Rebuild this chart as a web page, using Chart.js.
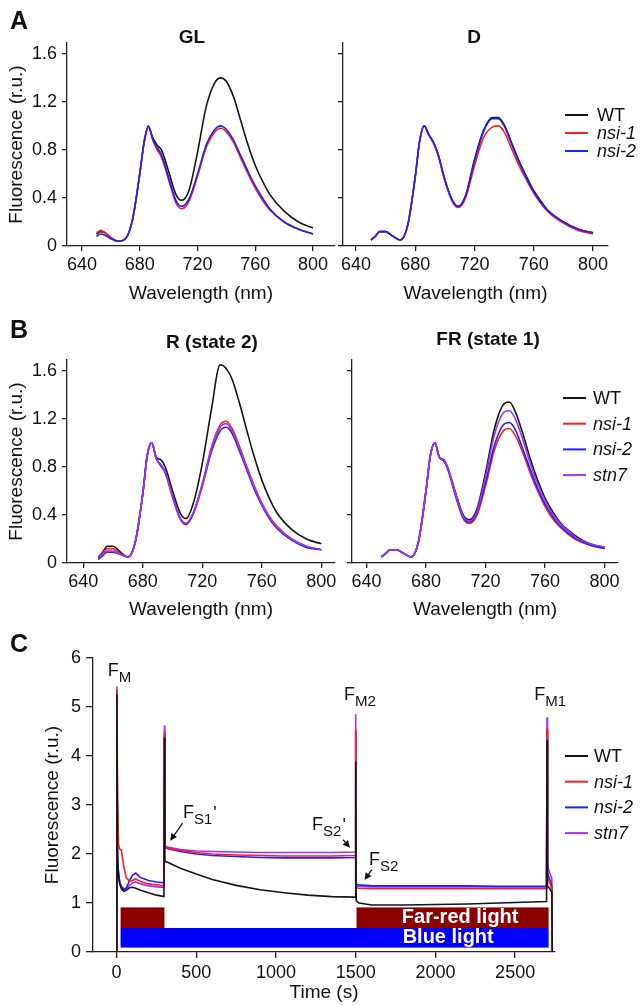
<!DOCTYPE html>
<html>
<head>
<meta charset="utf-8">
<script src="https://cdn.jsdelivr.net/npm/chart.js@4.4.1/dist/chart.umd.min.js"></script>
<style>
  html, body { margin: 0; padding: 0; background: #fff; }
  #fig { position: relative; width: 640px; height: 1005px; overflow: hidden; }
  #fig canvas { position: absolute; }
</style>
</head>
<body>
<div id="fig">
  <canvas id="glChart" width="340" height="310" style="left:0;top:0"></canvas>
  <canvas id="dChart" width="310" height="310" style="left:330px;top:0"></canvas>
  <canvas id="rChart" width="340" height="315" style="left:0;top:310px"></canvas>
  <canvas id="frChart" width="300" height="315" style="left:340px;top:310px"></canvas>
  <canvas id="timeChart" width="640" height="380" style="left:0;top:625px"></canvas>
</div>
<script>
// ---- data ----
const wl = [650, 653, 656, 660, 665, 670, 675, 680, 683, 686, 689, 692, 695, 700, 705, 709, 714, 720, 726, 732, 736, 740, 745, 750, 755, 760, 765, 770, 780, 790, 800];
const wlTicks = [640, 680, 720, 760, 800];
const fluoTicks = [0, 0.4, 0.8, 1.2, 1.6];

// A: growth light (GL) and dark (D)
const glWT   = [0.10,0.12,0.11,0.07,0.04,0.06,0.22,0.60,0.86,0.99,0.90,0.84,0.80,0.62,0.43,0.38,0.46,0.78,1.16,1.36,1.40,1.37,1.24,1.04,0.84,0.67,0.54,0.43,0.29,0.20,0.15];
const glNsi1 = [0.11,0.13,0.11,0.07,0.04,0.06,0.22,0.60,0.86,0.99,0.88,0.80,0.74,0.55,0.36,0.31,0.37,0.58,0.82,0.95,0.98,0.95,0.86,0.73,0.60,0.48,0.38,0.30,0.20,0.14,0.10];
const glNsi2 = [0.08,0.10,0.09,0.06,0.04,0.06,0.22,0.60,0.87,1.00,0.89,0.82,0.76,0.57,0.38,0.33,0.39,0.60,0.84,0.97,1.00,0.97,0.88,0.75,0.62,0.50,0.40,0.31,0.20,0.14,0.10];
const dWT    = [0.05,0.08,0.12,0.12,0.08,0.05,0.18,0.58,0.88,1.00,0.93,0.87,0.78,0.55,0.38,0.33,0.42,0.72,0.96,1.07,1.07,1.01,0.86,0.71,0.58,0.46,0.37,0.29,0.20,0.14,0.11];
const dNsi1  = [0.05,0.08,0.12,0.12,0.08,0.05,0.18,0.58,0.88,1.00,0.93,0.86,0.77,0.54,0.37,0.32,0.40,0.67,0.90,0.99,1.00,0.95,0.81,0.67,0.55,0.44,0.35,0.28,0.19,0.13,0.10];
const dNsi2  = [0.05,0.08,0.12,0.12,0.08,0.05,0.18,0.58,0.88,1.00,0.93,0.87,0.78,0.55,0.38,0.33,0.42,0.71,0.95,1.06,1.06,1.00,0.85,0.70,0.57,0.45,0.36,0.29,0.20,0.14,0.11];

// B: red light (state 2) and far-red light (state 1)
const rWT    = [0.05,0.09,0.14,0.14,0.09,0.05,0.18,0.58,0.90,1.00,0.88,0.86,0.80,0.60,0.42,0.37,0.50,0.83,1.27,1.65,1.62,1.53,1.33,1.10,0.88,0.69,0.54,0.42,0.28,0.20,0.16];
const rNsi1  = [0.04,0.08,0.12,0.12,0.08,0.05,0.18,0.58,0.90,1.00,0.87,0.82,0.76,0.56,0.38,0.33,0.42,0.66,0.96,1.15,1.18,1.12,0.97,0.80,0.64,0.50,0.39,0.31,0.20,0.14,0.11];
const rNsi2  = [0.03,0.06,0.09,0.09,0.07,0.05,0.18,0.58,0.90,1.00,0.87,0.81,0.75,0.55,0.37,0.32,0.41,0.64,0.92,1.10,1.13,1.08,0.93,0.77,0.61,0.48,0.37,0.29,0.19,0.13,0.11];
const rStn7  = [0.04,0.07,0.10,0.10,0.07,0.05,0.18,0.58,0.90,1.00,0.87,0.82,0.76,0.55,0.37,0.33,0.42,0.65,0.94,1.13,1.16,1.10,0.95,0.79,0.63,0.49,0.38,0.30,0.20,0.14,0.11];
const frWT   = [0.05,0.08,0.11,0.11,0.08,0.05,0.18,0.60,0.90,1.00,0.88,0.86,0.78,0.58,0.40,0.36,0.44,0.75,1.12,1.32,1.34,1.26,1.08,0.87,0.69,0.54,0.43,0.34,0.23,0.16,0.13];
const frNsi1 = [0.05,0.08,0.11,0.11,0.08,0.05,0.18,0.60,0.90,1.00,0.88,0.85,0.77,0.55,0.37,0.33,0.39,0.64,0.94,1.10,1.12,1.06,0.92,0.75,0.60,0.47,0.37,0.30,0.20,0.15,0.12];
const frNsi2 = [0.05,0.08,0.11,0.11,0.08,0.05,0.18,0.60,0.90,1.00,0.88,0.85,0.77,0.56,0.38,0.34,0.41,0.67,0.98,1.15,1.17,1.11,0.95,0.78,0.62,0.49,0.39,0.31,0.21,0.15,0.12];
const frStn7 = [0.05,0.08,0.11,0.11,0.08,0.05,0.18,0.60,0.90,1.00,0.88,0.86,0.78,0.57,0.39,0.35,0.42,0.72,1.07,1.25,1.27,1.20,1.03,0.83,0.66,0.52,0.41,0.33,0.22,0.16,0.13];

// C: time course
const timeS = [0, 2, 6, 12, 20, 30, 45, 60, 80, 100, 120, 150, 200, 250, 297, 300, 303, 320, 400, 500, 600, 750, 900, 1050, 1200, 1350, 1497, 1500, 1503, 1520, 1600, 1800, 2000, 2200, 2400, 2600, 2697, 2700, 2703, 2715, 2730, 2733];
const tWT   = [0, 5.25, 1.9, 1.55, 1.38, 1.29, 1.24, 1.26, 1.31, 1.32, 1.30, 1.26, 1.21, 1.16, 1.13, 4.37, 1.85, 1.83, 1.71, 1.59, 1.48, 1.36, 1.27, 1.21, 1.16, 1.13, 1.12, 3.89, 1.05, 1.0, 0.96, 0.96, 0.97, 0.98, 1.0, 1.02, 1.03, 4.33, 1.34, 1.30, 1.22, 0];
const tNsi1 = [0, 5.35, 3.1, 2.2, 2.1, 2.08, 1.75, 1.52, 1.44, 1.46, 1.49, 1.44, 1.39, 1.37, 1.35, 4.5, 2.13, 2.12, 2.07, 2.03, 2.0, 1.98, 1.97, 1.96, 1.96, 1.96, 1.97, 4.54, 1.31, 1.30, 1.29, 1.29, 1.29, 1.29, 1.29, 1.29, 1.29, 4.56, 1.5, 1.45, 1.27, 0];
const tNsi2 = [0, 5.3, 1.9, 1.6, 1.42, 1.33, 1.27, 1.30, 1.45, 1.57, 1.61, 1.52, 1.46, 1.43, 1.41, 4.45, 2.13, 2.11, 2.05, 2.0, 1.97, 1.95, 1.93, 1.92, 1.92, 1.92, 1.93, 4.5, 1.38, 1.37, 1.35, 1.35, 1.35, 1.35, 1.34, 1.34, 1.34, 4.5, 1.6, 1.5, 1.35, 0];
const tStn7 = [0, 5.42, 1.95, 1.62, 1.42, 1.34, 1.29, 1.30, 1.36, 1.41, 1.43, 1.39, 1.35, 1.33, 1.32, 4.62, 2.15, 2.14, 2.09, 2.06, 2.05, 2.04, 2.03, 2.03, 2.03, 2.03, 2.04, 4.85, 1.35, 1.34, 1.33, 1.33, 1.33, 1.33, 1.33, 1.33, 1.33, 4.79, 1.8, 1.62, 1.5, 0];
const timeTicks = [0, 500, 1000, 1500, 2000, 2500];
const timeFluoTicks = [0, 1, 2, 3, 4, 5, 6];
const farRedOn = [[25, 300], [1505, 2710]];
const blueOn = [[25, 2710]];

const COLORS = { WT: '#151515', 'nsi-1': '#ff1f1f', 'nsi-2': '#1f1fff', stn7: '#9a33ff' };
const FONT = '"Liberation Sans", Arial, Helvetica, sans-serif';

Chart.defaults.font.family = FONT;
Chart.defaults.color = '#111';

// text, panel letters and legends drawn in canvas pixels
const figureText = {
  id: 'figureText',
  afterDraw(chart, args, opts) {
    const ctx = chart.ctx;
    ctx.save();
    (opts.items || []).forEach(it => {
      ctx.font = it.font;
      ctx.fillStyle = '#111';
      ctx.textAlign = it.align || 'center';
      ctx.textBaseline = 'middle';
      ctx.fillText(it.text, it.x, it.y);
    });
    const lg = opts.legend;
    if (lg) {
      chart.data.datasets.forEach((ds, i) => {
        const y = lg.y + i * lg.dy;
        ctx.strokeStyle = ds.borderColor;
        ctx.lineWidth = 2;
        ctx.beginPath();
        ctx.moveTo(lg.x, y);
        ctx.lineTo(lg.x + 23, y);
        ctx.stroke();
        ctx.fillStyle = '#111';
        ctx.font = (ds.label === 'WT' ? '' : 'italic ') + '18px ' + FONT;
        ctx.textAlign = 'left';
        ctx.textBaseline = 'middle';
        ctx.fillText(ds.label, lg.x + lg.gap, y + 1);
      });
    }
    ctx.restore();
  }
};

// light-period bars and F labels/arrows for the time course, placed through the scales
const timeMarks = {
  id: 'timeMarks',
  beforeDatasetsDraw(chart, args, opts) {
    const { ctx, scales: { x, y } } = chart;
    ctx.save();
    const band = (periods, lo, hi, color) => periods.forEach(p => {
      const x0 = x.getPixelForValue(p[0]), x1 = x.getPixelForValue(p[1]);
      const y0 = y.getPixelForValue(hi), y1 = y.getPixelForValue(lo);
      ctx.fillStyle = color;
      ctx.fillRect(x0, y0, x1 - x0, y1 - y0);
    });
    band(farRedOn, opts.farRedBand[0], opts.farRedBand[1], '#8c0000');
    band(blueOn, opts.blueBand[0], opts.blueBand[1], '#0000ff');
    ctx.fillStyle = '#fff';
    ctx.font = 'bold 20px ' + FONT;
    ctx.textAlign = 'center';
    ctx.textBaseline = 'middle';
    opts.barText.forEach(b => ctx.fillText(b.text, x.getPixelForValue(b.t), y.getPixelForValue(b.v)));
    ctx.restore();
  },
  afterDraw(chart, args, opts) {
    const { ctx, scales: { x, y } } = chart;
    ctx.save();
    ctx.fillStyle = '#111';
    ctx.textAlign = 'left';
    ctx.textBaseline = 'alphabetic';
    opts.labels.forEach(l => {
      const px = x.getPixelForValue(l.t), py = y.getPixelForValue(l.v);
      ctx.font = '18px ' + FONT;
      ctx.fillText('F', px, py);
      const w = ctx.measureText('F').width;
      ctx.font = '15px ' + FONT;
      ctx.fillText(l.sub, px + w, py + 6);
      if (l.prime) {
        const w2 = ctx.measureText(l.sub).width;
        ctx.font = '18px ' + FONT;
        ctx.fillText("'", px + w + w2 + 1, py + 1);
      }
    });
    ctx.strokeStyle = '#111';
    ctx.lineWidth = 1.3;
    opts.arrows.forEach(a => {
      const x0 = x.getPixelForValue(a.from[0]), y0 = y.getPixelForValue(a.from[1]);
      const x1 = x.getPixelForValue(a.to[0]), y1 = y.getPixelForValue(a.to[1]);
      const ang = Math.atan2(y1 - y0, x1 - x0);
      ctx.beginPath();
      ctx.moveTo(x0, y0);
      ctx.lineTo(x1 - 4 * Math.cos(ang), y1 - 4 * Math.sin(ang));
      ctx.stroke();
      ctx.beginPath();
      ctx.moveTo(x1, y1);
      ctx.lineTo(x1 - 7 * Math.cos(ang) + 3.5 * Math.sin(ang), y1 - 7 * Math.sin(ang) - 3.5 * Math.cos(ang));
      ctx.lineTo(x1 - 7 * Math.cos(ang) - 3.5 * Math.sin(ang), y1 - 7 * Math.sin(ang) + 3.5 * Math.cos(ang));
      ctx.closePath();
      ctx.fill();
    });
    ctx.restore();
  }
};

function lineSet(label, xs, ys, order, smooth) {
  return {
    label: label,
    data: xs.map((v, i) => ({ x: v, y: ys[i] })),
    borderColor: COLORS[label],
    borderWidth: 1.6,
    pointRadius: 0,
    fill: false,
    order: order,
    tension: 0,
    cubicInterpolationMode: smooth ? 'monotone' : 'default'
  };
}

const axisLine = { color: '#222', width: 1.3 };

function specScales(o) {
  return {
    x: {
      type: 'linear', min: o.xMin, max: o.xMax,
      afterBuildTicks: s => { s.ticks = wlTicks.map(v => ({ value: v })); },
      afterFit: s => { s.height = o.xH; },
      grid: { drawOnChartArea: false, tickLength: 5, color: '#222', lineWidth: 1.3 },
      border: axisLine,
      ticks: { autoSkip: false, maxRotation: 0, color: '#111', font: { size: 18 }, padding: 3, callback: v => String(v) },
      title: { display: true, text: 'Wavelength (nm)', color: '#111', font: { size: 19 }, padding: { top: 0, bottom: o.titlePad } }
    },
    y: {
      type: 'linear', min: 0, max: 1.69,
      afterBuildTicks: s => { s.ticks = fluoTicks.map(v => ({ value: v })); },
      afterFit: s => { s.width = o.yW; },
      grid: { drawOnChartArea: false, tickLength: 5, color: '#222', lineWidth: 1.3 },
      border: axisLine,
      ticks: { color: '#111', font: { size: 18 }, padding: 5, callback: v => (o.yLabels ? String(v) : '') },
      title: { display: o.yLabels, text: 'Fluorescence (r.u.)', color: '#111', font: { size: 19 }, padding: { top: 5.6, bottom: 0 } }
    }
  };
}

function spectrumChart(id, sets, o) {
  return new Chart(document.getElementById(id), {
    type: 'line',
    data: { datasets: sets },
    options: {
      responsive: false,
      animation: false,
      events: [],
      layout: { padding: { top: o.top, right: o.right, left: 0, bottom: 0 } },
      scales: specScales(o),
      plugins: { legend: { display: false }, tooltip: { enabled: false }, figureText: { items: o.text, legend: o.legend } }
    },
    plugins: [figureText]
  });
}

spectrumChart('glChart', [
  lineSet('WT', wl, glWT, 3, true),
  lineSet('nsi-1', wl, glNsi1, 2, true),
  lineSet('nsi-2', wl, glNsi2, 1, true)
], {
  xMin: 629.6, xMax: 815.2, top: 43, right: 5, yW: 67, xH: 64, titlePad: 4.6, yLabels: true,
  text: [
    { text: 'A', x: 10, y: 22, align: 'left', font: 'bold 25px ' + FONT },
    { text: 'GL', x: 192, y: 38, font: 'bold 19px ' + FONT }
  ]
});

spectrumChart('dChart', [
  lineSet('WT', wl, dWT, 3, true),
  lineSet('nsi-1', wl, dNsi1, 2, true),
  lineSet('nsi-2', wl, dNsi2, 1, true)
], {
  xMin: 631.2, xMax: 810.1, top: 43, right: 32, yW: 13, xH: 64, titlePad: 4.6, yLabels: false,
  text: [{ text: 'D', x: 144, y: 38, font: 'bold 19px ' + FONT }],
  legend: { x: 235, y: 115, dy: 18, gap: 32 }
});

spectrumChart('rChart', [
  lineSet('WT', wl, rWT, 3, true),
  lineSet('nsi-1', wl, rNsi1, 2, true),
  lineSet('nsi-2', wl, rNsi2, 1, true),
  lineSet('stn7', wl, rStn7, 0, true)
], {
  xMin: 629.0, xMax: 809.2, top: 50, right: 5, yW: 67, xH: 62, titlePad: 3.6, yLabels: true,
  text: [
    { text: 'B', x: 10, y: 21, align: 'left', font: 'bold 25px ' + FONT },
    { text: 'R (state 2)', x: 212, y: 33, font: 'bold 19px ' + FONT }
  ]
});

spectrumChart('frChart', [
  lineSet('WT', wl, frWT, 3, true),
  lineSet('nsi-1', wl, frNsi1, 2, true),
  lineSet('nsi-2', wl, frNsi2, 1, true),
  lineSet('stn7', wl, frStn7, 0, true)
], {
  xMin: 630.3, xMax: 809, top: 50, right: 22, yW: 12, xH: 62, titlePad: 3.6, yLabels: false,
  text: [{ text: 'FR (state 1)', x: 148, y: 30, font: 'bold 19px ' + FONT }],
  legend: { x: 223, y: 88, dy: 25.7, gap: 30 }
});

// C: fluorescence time course
new Chart(document.getElementById('timeChart'), {
  type: 'line',
  data: {
    datasets: [
      lineSet('WT', timeS, tWT, 0, false),
      lineSet('nsi-1', timeS, tNsi1, 1, false),
      lineSet('nsi-2', timeS, tNsi2, 2, false),
      lineSet('stn7', timeS, tStn7, 3, false)
    ]
  },
  options: {
    responsive: false,
    animation: false,
    events: [],
    layout: { padding: { top: 33, right: 85, left: 0, bottom: 0 } },
    scales: {
      x: {
        type: 'linear', min: -148, max: 2750,
        afterBuildTicks: s => { s.ticks = timeTicks.map(v => ({ value: v })); },
        afterFit: s => { s.height = 53; },
        grid: { drawOnChartArea: false, tickLength: 6, color: '#222', lineWidth: 1.3 },
        border: axisLine,
        ticks: { autoSkip: false, maxRotation: 0, color: '#111', font: { size: 18 }, padding: 4, callback: v => String(v) },
        title: { display: true, text: 'Time (s)', color: '#111', font: { size: 19 }, padding: { top: 0, bottom: 0.6 } }
      },
      y: {
        type: 'linear', min: 0, max: 6,
        afterBuildTicks: s => { s.ticks = timeFluoTicks.map(v => ({ value: v })); },
        afterFit: s => { s.width = 93; },
        grid: { drawOnChartArea: false, tickLength: 7, color: '#222', lineWidth: 1.3 },
        border: axisLine,
        ticks: { color: '#111', font: { size: 18 }, padding: 5, callback: v => String(v) },
        title: { display: true, text: 'Fluorescence (r.u.)', color: '#111', font: { size: 19 }, padding: { top: 41.6, bottom: 0 } }
      }
    },
    plugins: {
      legend: { display: false },
      tooltip: { enabled: false },
      figureText: {
        items: [{ text: 'C', x: 10, y: 20, align: 'left', font: 'bold 25px ' + FONT }],
        legend: { x: 565, y: 131, dy: 25.7, gap: 29 }
      },
      timeMarks: {
        farRedBand: [0.49, 0.91],
        blueBand: [0.09, 0.49],
        barText: [
          { text: 'Far-red light', t: 2155, v: 0.70 },
          { text: 'Blue light', t: 2080, v: 0.29 }
        ],
        labels: [
          { sub: 'M', t: -55, v: 5.64 },
          { sub: 'M2', t: 1427, v: 5.15 },
          { sub: 'M1', t: 2620, v: 5.15 },
          { sub: 'S1', t: 416, v: 2.74, prime: true },
          { sub: 'S2', t: 1226, v: 2.49, prime: true },
          { sub: 'S2', t: 1584, v: 1.78 }
        ],
        arrows: [
          { from: [414, 2.63], to: [336, 2.27] },
          { from: [1421, 2.29], to: [1464, 2.13] },
          { from: [1601, 1.68], to: [1555, 1.47] }
        ]
      }
    }
  },
  plugins: [figureText, timeMarks]
});
</script>
</body>
</html>
